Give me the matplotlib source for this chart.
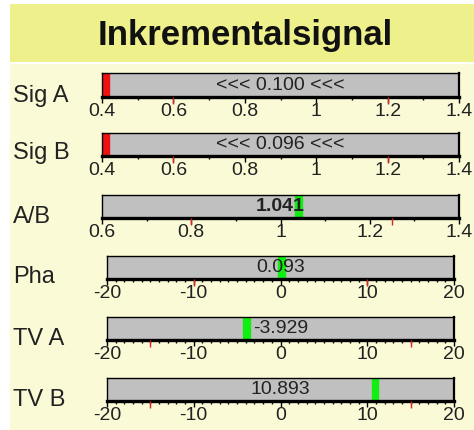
import matplotlib
matplotlib.use("Agg")
import matplotlib.pyplot as plt
from matplotlib.patches import Rectangle

plt.rcParams['font.family'] = ['Liberation Sans', 'DejaVu Sans']

# data
names = ["Sig A", "Sig B", "A/B", "Pha", "TV A", "TV B"]
values = [0.100, 0.096, 1.041, 0.093, -3.929, 10.893]
lo = [0.4, 0.4, 0.6, -20, -20, -20]
hi = [1.4, 1.4, 1.4, 20, 20, 20]
major_step = [0.2, 0.2, 0.2, 10, 10, 10]
minor_step = [0.1, 0.1, 0.1, 1, 1, 1]
alarms = [[0.6, 1.2], [0.6, 1.2], [0.8, 1.25], [-10, 10], [-15, 15], [-15, 15]]
bold_value = [False, False, True, False, False, False]

# layout in pixels
W, H = 474, 430
bar_x = [(102, 459), (102, 459), (102, 459), (107, 454), (107, 454), (107, 454)]
bar_y = [(73, 97), (133, 156), (195, 218), (256, 279), (317, 340), (378, 401)]
label_y = [96, 153, 217, 277, 339, 400]

fig = plt.figure(figsize=(W / 100, H / 100), dpi=100)
fig.patch.set_facecolor("white")
fig.add_artist(Rectangle((10 / W, 1 - 62 / H), 464 / W, 58 / H, transform=fig.transFigure,
                         facecolor="#eef08c", edgecolor="none", zorder=0))
fig.add_artist(Rectangle((10 / W, 0), 464 / W, 1 - 64 / H, transform=fig.transFigure,
                         facecolor="#fafad6", edgecolor="none", zorder=0))
fig.text(245 / W, 1 - 35 / H, "Inkrementalsignal", ha="center", va="center",
         fontsize=25, fontweight="bold", color="#111111")


def steps(a, b, s):
    n = int(round((b - a) / s))
    return [round(a + k * s, 6) for k in range(n + 1)]


for i in range(len(names)):
    x0, x1 = bar_x[i]
    y0, y1 = bar_y[i]
    ax = fig.add_axes([x0 / W, 1 - y1 / H, (x1 - x0) / W, (y1 - y0) / H])
    ax.set_facecolor("#c0c0c0")
    ax.set_xlim(lo[i], hi[i])
    ax.set_ylim(0, 1)
    ax.set_yticks([])
    for s in ["top", "left", "right"]:
        ax.spines[s].set_linewidth(1)
    ax.spines["right"].set_linewidth(1.6)
    ax.spines["bottom"].set_linewidth(2.4)

    majors = steps(lo[i], hi[i], major_step[i])
    ax.set_xticks(majors, labels=["%g" % m for m in majors])
    ax.set_xticks(steps(lo[i], hi[i], minor_step[i]), minor=True)
    ax.tick_params(axis="x", which="major", length=4.5, width=1, pad=0,
                   labelsize=14, labelcolor="#222222")
    ax.tick_params(axis="x", which="minor", length=2.5, width=1)
    ax.vlines(alarms[i], 0, -0.3, colors="#dd2222", linewidth=1,
              transform=ax.get_xaxis_transform(), clip_on=False, zorder=5)

    # marker
    w = 0.02 * (hi[i] - lo[i])
    v = values[i]
    if v < lo[i]:
        ax.axvspan(lo[i], lo[i] + w, color="#ee1111", zorder=2)
        txt = "<<< %.3f <<<" % v
    elif v > hi[i]:
        ax.axvspan(hi[i] - w, hi[i], color="#ee1111", zorder=2)
        txt = ">>> %.3f >>>" % v
    else:
        ax.axvspan(v - w / 2, v + w / 2, color="#11ee11", zorder=2)
        txt = "%.3f" % v
    ax.text(0.5, 0.5, txt, transform=ax.transAxes, ha="center", va="center",
            fontsize=14, fontweight="bold" if bold_value[i] else "normal",
            color="#222222", zorder=4)

    fig.text(13 / W, 1 - label_y[i] / H, names[i], ha="left", va="center",
             fontsize=17, color="#222222")

fig.savefig("out.png", dpi=100, facecolor=fig.get_facecolor())
